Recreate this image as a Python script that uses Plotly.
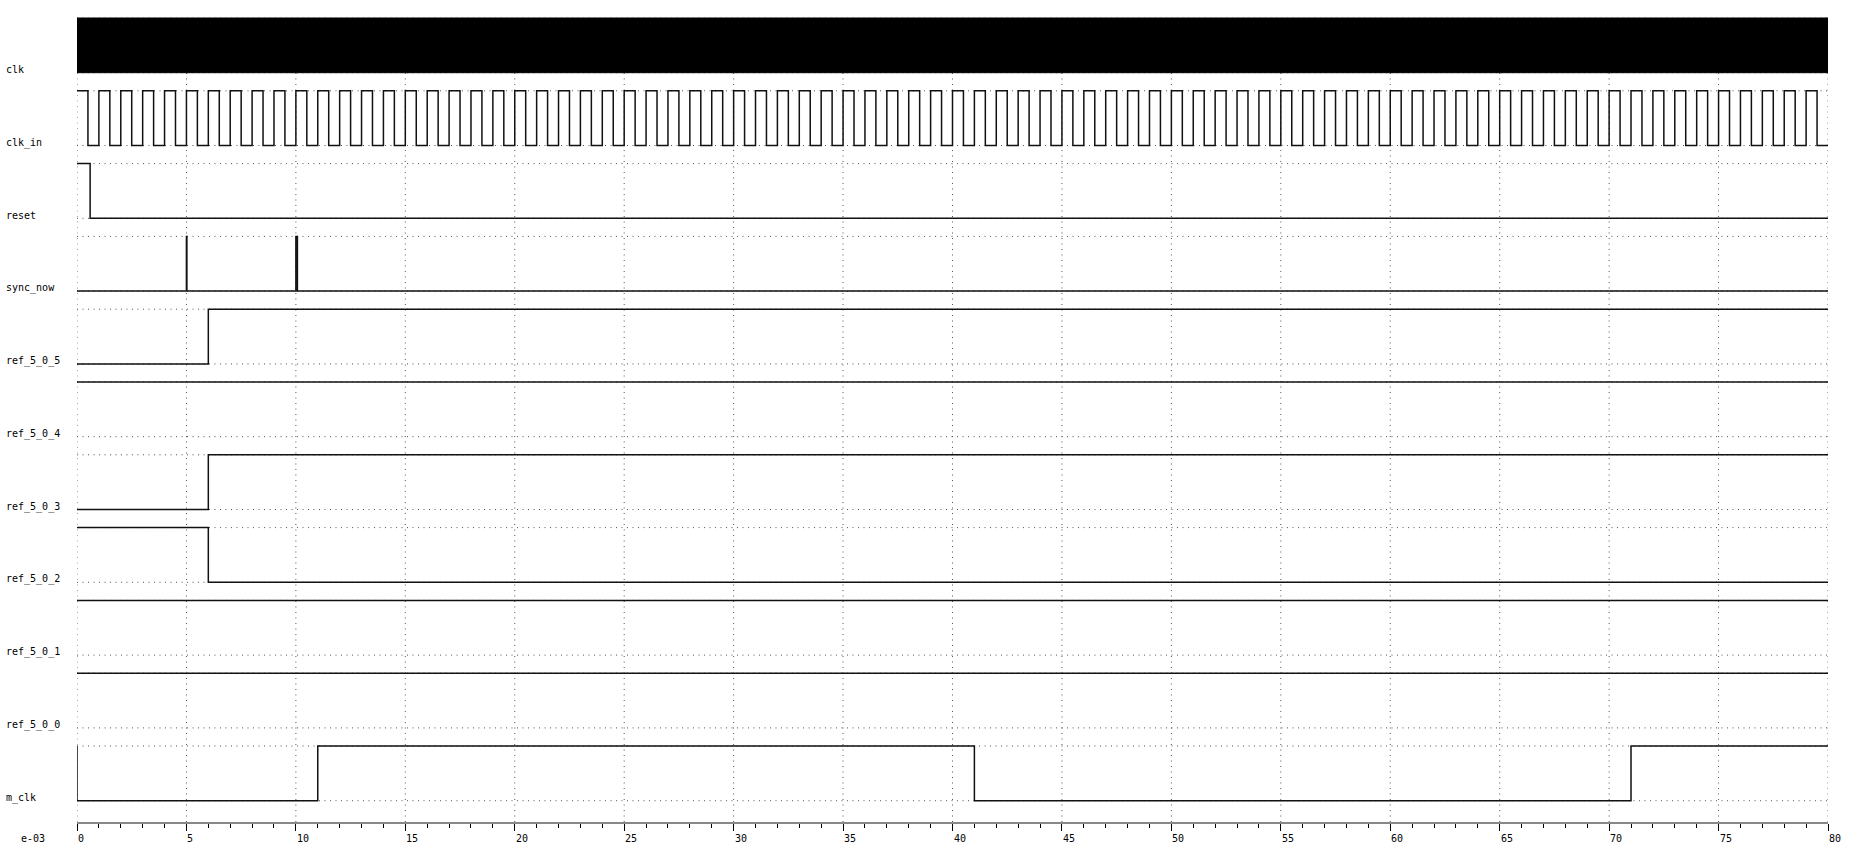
import plotly.graph_objects as go

# ---------------- data ----------------
signal_names = ["clk", "clk_in", "reset", "sync_now", "ref_5_0_5", "ref_5_0_4",
                "ref_5_0_3", "ref_5_0_2", "ref_5_0_1", "ref_5_0_0", "m_clk"]

t_end = 80

# clk toggles far faster than one pixel: drawn as a solid band
clk_span = [0, 80]

# clk_in: rising and falling edge times (e-03 s)
clk_in_rise = [0, 1, 2, 3, 4, 5, 6, 7, 8, 9,
               10, 11, 12, 13, 14, 15, 16, 17, 18, 19,
               20, 21, 22, 23, 24, 25, 26, 27, 28, 29,
               30, 31, 32, 33, 34, 35, 36, 37, 38, 39,
               40, 41, 42, 43, 44, 45, 46, 47, 48, 49,
               50, 51, 52, 53, 54, 55, 56, 57, 58, 59,
               60, 61, 62, 63, 64, 65, 66, 67, 68, 69,
               70, 71, 72, 73, 74, 75, 76, 77, 78, 79]
clk_in_fall = [0.5, 1.5, 2.5, 3.5, 4.5, 5.5, 6.5, 7.5, 8.5, 9.5,
               10.5, 11.5, 12.5, 13.5, 14.5, 15.5, 16.5, 17.5, 18.5, 19.5,
               20.5, 21.5, 22.5, 23.5, 24.5, 25.5, 26.5, 27.5, 28.5, 29.5,
               30.5, 31.5, 32.5, 33.5, 34.5, 35.5, 36.5, 37.5, 38.5, 39.5,
               40.5, 41.5, 42.5, 43.5, 44.5, 45.5, 46.5, 47.5, 48.5, 49.5,
               50.5, 51.5, 52.5, 53.5, 54.5, 55.5, 56.5, 57.5, 58.5, 59.5,
               60.5, 61.5, 62.5, 63.5, 64.5, 65.5, 66.5, 67.5, 68.5, 69.5,
               70.5, 71.5, 72.5, 73.5, 74.5, 75.5, 76.5, 77.5, 78.5, 79.5]

reset_t = [0, 0.6, 80]
reset_v = [1, 0, 0]

sync_now_t = [0, 5.0, 5.02, 10.0, 10.07, 80]
sync_now_v = [0, 1, 0, 1, 0, 0]

ref_5_0_5_t = [0, 6, 80]
ref_5_0_5_v = [0, 1, 1]
ref_5_0_4_t = [0, 80]
ref_5_0_4_v = [1, 1]
ref_5_0_3_t = [0, 6, 80]
ref_5_0_3_v = [0, 1, 1]
ref_5_0_2_t = [0, 6, 80]
ref_5_0_2_v = [1, 0, 0]
ref_5_0_1_t = [0, 80]
ref_5_0_1_v = [1, 1]
ref_5_0_0_t = [0, 80]
ref_5_0_0_v = [1, 1]

m_clk_t = [0, 0, 11, 41, 71, 80]
m_clk_v = [1, 0, 1, 0, 1, 1]

tick_vals = [0, 5, 10, 15, 20, 25, 30, 35, 40, 45, 50, 55, 60, 65, 70, 75, 80]
tick_text = ["0", "5", "10", "15", "20", "25", "30", "35", "40", "45", "50",
             "55", "60", "65", "70", "75", "80"]
unit_label = "e-03"

# ---------------- layout geometry ----------------
W, H = 1861, 855
ML, MR, MT, MB = 77, 33, 14, 33
ROW_PITCH_PX = 72.8
ROW_H = 54.7 / ROW_PITCH_PX        # height of a row's swing in row units
FIRST_HIGH_PX = 18.0
y_top = (FIRST_HIGH_PX - MT) / ROW_PITCH_PX
y_bot = -(H - MB - FIRST_HIGH_PX) / ROW_PITCH_PX


def hi(i):
    return -i


def lo(i):
    return -i - ROW_H


def level(i, v):
    return lo(i) + v * ROW_H


FONT = "DejaVu Sans Mono"
LINE = dict(color="#111111", width=1.5)
GRID = "#555555"
DOTS = "1px,4.5px"

fig = go.Figure()

# clk: solid band
i = 0
fig.add_trace(go.Scatter(
    x=[clk_span[0], clk_span[1], clk_span[1], clk_span[0], clk_span[0]],
    y=[hi(i), hi(i), lo(i), lo(i), hi(i)],
    mode="lines", fill="toself", fillcolor="black",
    line=dict(color="black", width=1), hoverinfo="skip", showlegend=False))

# clk_in from edge lists
i = 1
edges = sorted([(t, 1) for t in clk_in_rise] + [(t, 0) for t in clk_in_fall])
cx = [e[0] for e in edges] + [t_end]
cy = [level(i, e[1]) for e in edges] + [level(i, edges[-1][1])]
fig.add_trace(go.Scatter(x=cx, y=cy, mode="lines", line=dict(shape="hv", **LINE),
                         hoverinfo="skip", showlegend=False))

series = [
    (2, reset_t, reset_v),
    (3, sync_now_t, sync_now_v),
    (4, ref_5_0_5_t, ref_5_0_5_v),
    (5, ref_5_0_4_t, ref_5_0_4_v),
    (6, ref_5_0_3_t, ref_5_0_3_v),
    (7, ref_5_0_2_t, ref_5_0_2_v),
    (8, ref_5_0_1_t, ref_5_0_1_v),
    (9, ref_5_0_0_t, ref_5_0_0_v),
    (10, m_clk_t, m_clk_v),
]
for i, ts, vs in series:
    fig.add_trace(go.Scatter(x=ts, y=[level(i, v) for v in vs], mode="lines",
                             line=dict(shape="hv", **LINE),
                             hoverinfo="skip", showlegend=False))

shapes = []
# vertical dotted grid at every labelled tick (incl. both ends)
for tv in tick_vals:
    shapes.append(dict(type="line", xref="x", yref="paper", x0=tv, x1=tv,
                       y0=0, y1=1, layer="below",
                       line=dict(color=GRID, width=1, dash=DOTS)))
# horizontal dotted grid at each row's high and low levels
for i in range(len(signal_names)):
    for yy in (hi(i), lo(i)):
        shapes.append(dict(type="line", xref="x", yref="y", x0=0, x1=t_end,
                           y0=yy, y1=yy, layer="below",
                           line=dict(color=GRID, width=1, dash=DOTS)))

annotations = []
for i, name in enumerate(signal_names):
    annotations.append(dict(text=name, xref="paper", x=0, xanchor="left",
                            xshift=-73, yref="y", y=lo(i), yanchor="middle",
                            yshift=3, showarrow=False,
                            font=dict(family=FONT, size=10, color="black")))
for tv, tt in zip(tick_vals, tick_text):
    annotations.append(dict(text=tt, xref="x", x=tv, xanchor="left", xshift=-1,
                            yref="paper", y=0, yanchor="top", yshift=-9,
                            showarrow=False,
                            font=dict(family=FONT, size=10, color="black")))
annotations.append(dict(text=unit_label, xref="paper", x=0, xanchor="left",
                        xshift=-58, yref="paper", y=0, yanchor="top", yshift=-9,
                        showarrow=False,
                        font=dict(family=FONT, size=10, color="black")))

fig.update_layout(
    width=W, height=H,
    margin=dict(l=ML, r=MR, t=MT, b=MB, pad=0),
    paper_bgcolor="white", plot_bgcolor="white",
    shapes=shapes, annotations=annotations,
    xaxis=dict(range=[0, t_end], tickvals=tick_vals, ticktext=tick_text,
               showticklabels=False, ticks="outside", ticklen=7,
               tickcolor="black", tickwidth=1,
               minor=dict(dtick=1, tick0=0, ticks="outside", ticklen=4,
                          tickcolor="black", tickwidth=1, showgrid=False),
               showgrid=False,
               showline=True, linecolor="#888888", linewidth=2,
               zeroline=False, fixedrange=True),
    yaxis=dict(range=[y_bot, y_top], showgrid=False, zeroline=False,
               showticklabels=False, ticks="", showline=False, fixedrange=True),
    showlegend=False,
)

fig.write_html("out.html",
               config={"displayModeBar": False, "staticPlot": True},
               post_script="document.body.style.margin='0';"
                           "document.body.style.overflow='hidden';")
